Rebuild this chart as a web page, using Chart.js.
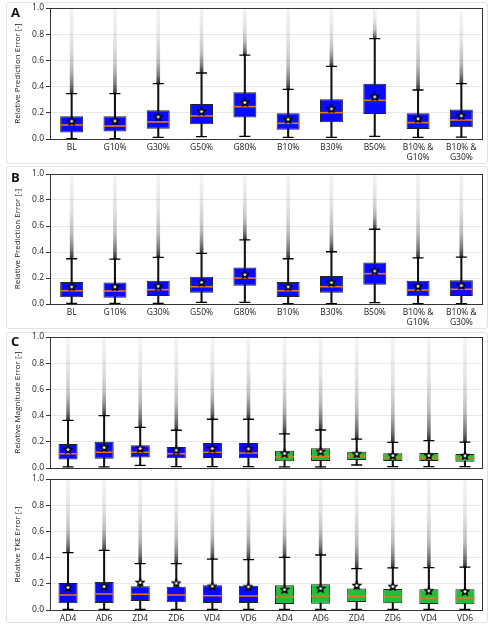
<!DOCTYPE html>
<html><head><meta charset="utf-8">
<script src="https://cdn.jsdelivr.net/npm/chart.js@4.4.1/dist/chart.umd.min.js"></script>
<style>
body{margin:0;background:#fff;width:498px;height:626px;position:relative;overflow:hidden;font-family:'Open Sans',sans-serif;}
.card{position:absolute;left:6px;width:482px;border:1px solid #e2e2e2;border-radius:3px;box-sizing:border-box;}
.wrap{position:absolute;left:0;}
.lbl{position:absolute;left:11px;font:bold 13px 'Open Sans',sans-serif;color:#111;}
canvas{display:block;}
</style></head><body>
<div class="card" style="top:2px;height:162px"></div>
<div class="card" style="top:166px;height:163px"></div>
<div class="card" style="top:332px;height:291px"></div>
<div class="wrap" style="top:0px"><canvas id="cA" width="488" height="164"></canvas></div>
<div class="wrap" style="top:166px"><canvas id="cB" width="488" height="163"></canvas></div>
<div class="wrap" style="top:329px"><canvas id="cC" width="488" height="142"></canvas></div>
<div class="wrap" style="top:471px"><canvas id="cD" width="488" height="153"></canvas></div>
<div class="lbl" style="top:3px">A</div>
<div class="lbl" style="top:168px">B</div>
<div class="lbl" style="top:332px">C</div>
<script>
// ---------- data ----------
const catsAB = ['BL','G10%','G30%','G50%','G80%','B10%','B30%','B50%',['B10% &','G10%'],['B10% &','G30%']];
const catsCD = ['AD4','AD6','ZD4','ZD6','VD4','VD6','AD4','AD6','ZD4','ZD6','VD4','VD6'];
const yTicks = [0.0,0.2,0.4,0.6,0.8,1.0];

// Panel A
const aLow  = [0.003,0.003,0.013,0.018,0.020,0.013,0.013,0.020,0.013,0.015];
const aQ1   = [0.050,0.058,0.079,0.112,0.165,0.071,0.127,0.191,0.076,0.089];
const aMed  = [0.107,0.099,0.130,0.176,0.247,0.120,0.201,0.295,0.125,0.145];
const aQ3   = [0.173,0.173,0.219,0.267,0.356,0.196,0.303,0.422,0.196,0.226];
const aHigh = [0.346,0.346,0.422,0.504,0.641,0.379,0.555,0.766,0.374,0.422];
const aMean = [0.140,0.142,0.173,0.214,0.282,0.155,0.234,0.326,0.158,0.181];
const aOutMax = [1,1,1,1,1,1,1,1,1,0.97];

// Panel B
const bLow  = [0.005,0.005,0.005,0.013,0.013,0.003,0.003,0.010,0.003,0.003];
const bQ1   = [0.051,0.049,0.061,0.087,0.141,0.054,0.087,0.148,0.059,0.061];
const bMed  = [0.102,0.100,0.110,0.133,0.200,0.102,0.133,0.233,0.107,0.113];
const bQ3   = [0.169,0.166,0.179,0.210,0.281,0.169,0.215,0.320,0.179,0.182];
const bHigh = [0.348,0.345,0.358,0.389,0.494,0.348,0.402,0.575,0.355,0.361];
const bMean = [0.136,0.136,0.141,0.171,0.230,0.136,0.169,0.258,0.141,0.146];
const bOutMax = [1,1,1,1,1,1,1,1,1,1];

// Panel C (top): magnitude error
const cLow  = [0.008,0.008,0.020,0.010,0.010,0.010,0.008,0.008,0.023,0.010,0.010,0.010];
const cQ1   = [0.064,0.071,0.081,0.074,0.076,0.074,0.051,0.053,0.061,0.053,0.053,0.048];
const cMed  = [0.109,0.120,0.120,0.109,0.120,0.115,0.084,0.089,0.092,0.079,0.079,0.076];
const cQ3   = [0.183,0.201,0.173,0.160,0.191,0.191,0.132,0.150,0.125,0.112,0.115,0.107];
const cHigh = [0.364,0.400,0.310,0.288,0.372,0.372,0.260,0.290,0.221,0.196,0.209,0.198];
const cMean = [0.145,0.160,0.153,0.140,0.153,0.150,0.115,0.130,0.112,0.099,0.099,0.097];
const cOutMax = [1,1,1,1,1,1,1,1,1,1,1,1];

// Panel C (bottom): TKE error
const dLow  = [0.005,0.005,0.005,0.005,0.005,0.005,0.005,0.005,0.005,0.005,0.005,0.005];
const dQ1   = [0.051,0.053,0.069,0.059,0.053,0.053,0.046,0.048,0.061,0.051,0.046,0.043];
const dMed  = [0.115,0.122,0.120,0.115,0.109,0.107,0.099,0.107,0.104,0.099,0.092,0.092];
const dQ3   = [0.206,0.214,0.181,0.178,0.188,0.186,0.188,0.196,0.165,0.160,0.158,0.158];
const dHigh = [0.438,0.455,0.354,0.354,0.389,0.384,0.402,0.420,0.316,0.321,0.323,0.328];
const dMean = [0.176,0.183,0.214,0.209,0.186,0.181,0.160,0.168,0.191,0.183,0.150,0.145];
const dOutMax = [1,1,1,1,1,1,1,1,1,1,1,1];

// ---------- styling ----------
const BLUE = '#0a0aff', GREEN = '#1fbf3c', ORANGE = '#e8761a';
const FONT = "'Open Sans', sans-serif";

function starImg(size){
  const c = document.createElement('canvas'); c.width = c.height = size;
  const x = c.getContext('2d');
  const R = size/2 - 1, r = R*0.45, cx = size/2, cy = size/2 + 0.6;
  x.beginPath();
  for (let i=0;i<10;i++){ const a=-Math.PI/2+i*Math.PI/5; const rr=i%2?r:R; x.lineTo(cx+rr*Math.cos(a), cy+rr*Math.sin(a)); }
  x.closePath(); x.fillStyle='#f4f4f4'; x.fill(); x.lineWidth=1.4; x.strokeStyle='#000'; x.stroke();
  return c;
}
const STAR = starImg(10);

function streakColor(ctx){
  const chart = ctx.chart, ys = chart.scales.y;
  if (ctx.type !== 'data' || !ys || !chart.chartArea) return 'rgba(80,80,80,0.4)';
  const v = ctx.raw;
  const y0 = ys.getPixelForValue(v[0]), y1 = ys.getPixelForValue(v[1]);
  if (!isFinite(y0) || !isFinite(y1) || y0 === y1) return 'rgba(80,80,80,0.4)';
  const g = chart.ctx.createLinearGradient(0, y0, 0, y1);
  g.addColorStop(0, 'rgba(25,25,25,0.9)');
  g.addColorStop(0.1, 'rgba(55,55,55,0.7)');
  g.addColorStop(0.3, 'rgba(110,110,110,0.45)');
  g.addColorStop(0.6, 'rgba(160,160,160,0.3)');
  g.addColorStop(1, 'rgba(200,200,200,0.2)');
  return g;
}

const framePlugin = {
  id: 'frame',
  afterDatasetsDraw(chart){
    const {ctx, chartArea:a} = chart;
    ctx.save(); ctx.strokeStyle='#333'; ctx.lineWidth=1;
    ctx.strokeRect(Math.round(a.left)+0.5, Math.round(a.top)+0.5, Math.round(a.width)-1, Math.round(a.height));
    ctx.restore();
  }
};

function makeChart(id, cats, low, q1, med, q3, high, mean, outMax, colorFn, title, showX, xH){
  const n = cats.length;
  const medR = 433/n*0.53/2;
  new Chart(document.getElementById(id), {
    type: 'bar',
    data: {
      labels: cats,
      datasets: [
        { type:'line', showLine:false, data: mean, pointStyle: STAR, pointRadius: 5, order: 0 },
        { type:'line', showLine:false, data: med, pointStyle:'line', pointRadius: medR, borderColor: ORANGE, pointBorderWidth: 1.6, order: 1 },
        { type:'line', showLine:false, data: high, pointStyle:'line', pointRadius: 5.5, borderColor:'#000', pointBorderWidth: 1.3, order: 2 },
        { type:'line', showLine:false, data: low, pointStyle:'line', pointRadius: 5.5, borderColor:'#000', pointBorderWidth: 1.3, order: 2 },
        { type:'bar', grouped:false, data: q1.map((v,i)=>[v,q3[i]]), backgroundColor: (c)=>colorFn(c.dataIndex),
          borderColor:'#222', borderWidth:1, borderSkipped:false, barPercentage:0.53, categoryPercentage:1, order: 3 },
        { type:'bar', grouped:false, data: low.map((v,i)=>[v,high[i]]), backgroundColor:'#111', barThickness:1.4, order: 4 },
        { type:'bar', grouped:false, data: high.map((v,i)=>[v,outMax[i]]), backgroundColor: streakColor, barThickness:3, order: 5 }
      ]
    },
    options: {
      responsive:false, animation:false, devicePixelRatio:1,
      layout:{ autoPadding:false, padding:{ top:8, right:5, left:0, bottom:0 } },
      plugins:{ legend:{display:false}, tooltip:{enabled:false} },
      scales:{
        x:{
          offset:true,
          grid:{ display:false, drawTicks:false, tickLength:0 },
          border:{ display:false },
          ticks:{ display:showX, color:'#222', padding:3, font:{ family:FONT, size:8.5 }, maxRotation:0, autoSkip:false },
          afterFit(s){ s.height = xH; s.paddingLeft = 0; s.paddingRight = 0; }
        },
        y:{
          min:0, max:1,
          afterBuildTicks(s){ s.ticks = yTicks.map(v=>({value:v})); },
          ticks:{ color:'#222', padding:2, font:{ family:FONT, size:8.5 }, callback:(v)=>Number(v).toFixed(1) },
          grid:{ color:'#e8e8e8', tickColor:'#333', tickLength:4, lineWidth:1 },
          border:{ display:false },
          title:{ display:true, text:title, color:'#222', font:{ family:FONT, size:8 }, padding:{ top:13, bottom:0 } },
          afterFit(s){ s.width = 50; s.paddingTop = 0; s.paddingBottom = 0; }
        }
      }
    },
    plugins:[framePlugin]
  });
}

const abColor = () => BLUE;
const cdColor = (i) => i < 6 ? BLUE : GREEN;
makeChart('cA', catsAB, aLow, aQ1, aMed, aQ3, aHigh, aMean, aOutMax, abColor, 'Relative Prediction Error [-]', true, 25);
makeChart('cB', catsAB, bLow, bQ1, bMed, bQ3, bHigh, bMean, bOutMax, abColor, 'Relative Prediction Error [-]', true, 25);
makeChart('cC', catsCD, cLow, cQ1, cMed, cQ3, cHigh, cMean, cOutMax, cdColor, 'Relative Magnitude Error [-]', false, 3);
makeChart('cD', catsCD, dLow, dQ1, dMed, dQ3, dHigh, dMean, dOutMax, cdColor, 'Relative TKE Error [-]', true, 14);
</script>
</body></html>
